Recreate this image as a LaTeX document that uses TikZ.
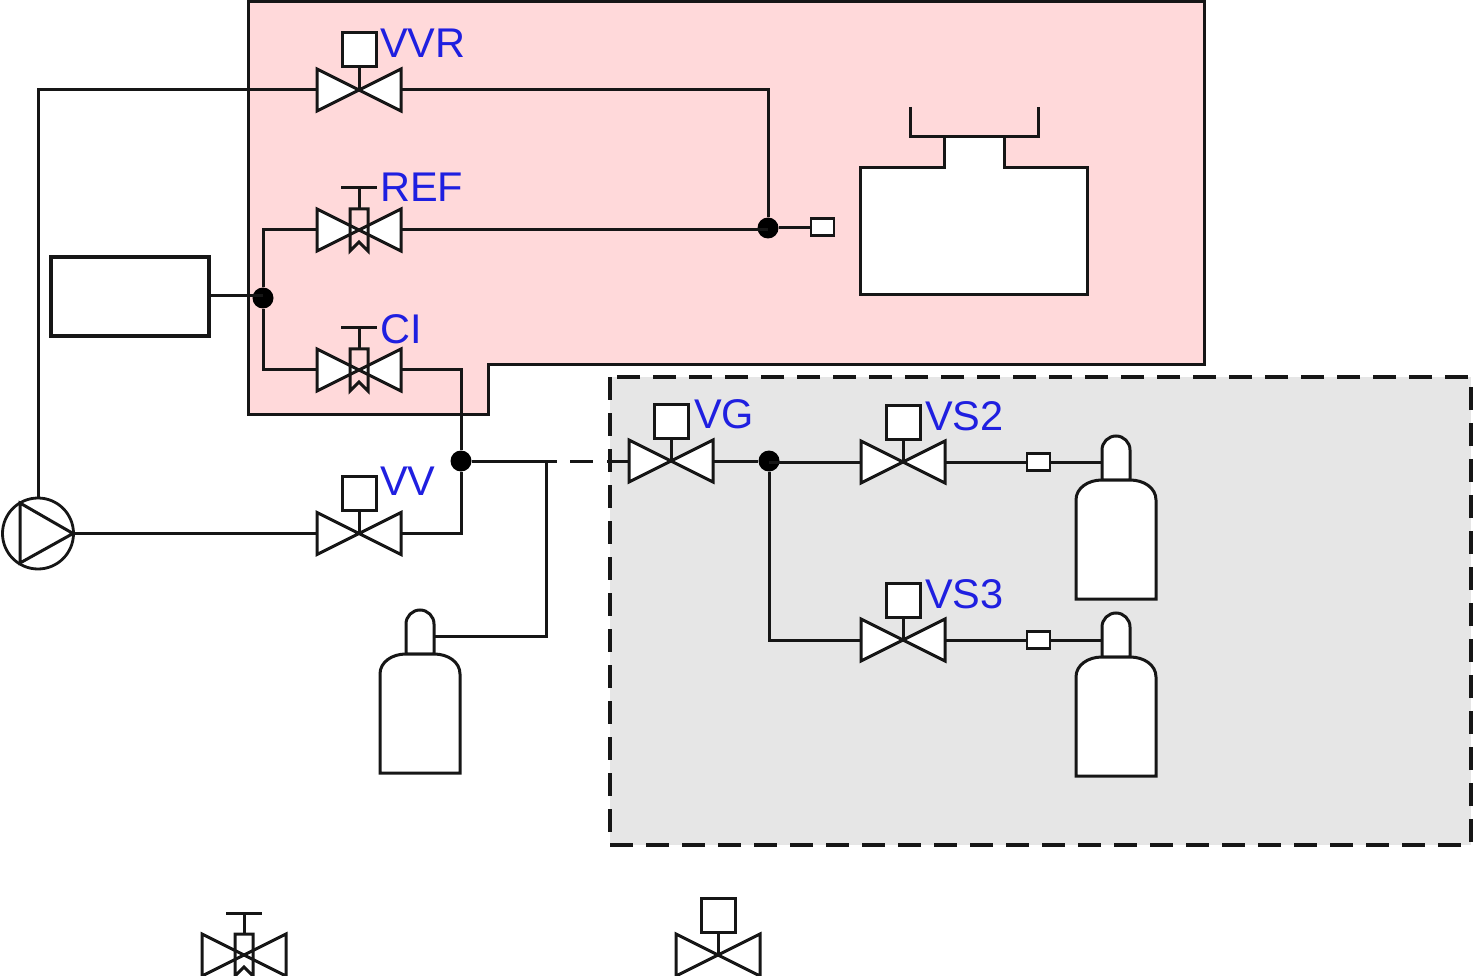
\documentclass[tikz,border=0pt]{standalone}
\usepackage{fontspec}
\setmainfont{Liberation Sans}
\definecolor{pinkbg}{HTML}{FFD9DA}
\definecolor{graybg}{HTML}{E6E6E6}
\definecolor{linek}{HTML}{161616}
\definecolor{lblblue}{HTML}{1F1FE0}
\tikzset{
  ln/.style={draw=linek,line width=3pt,line join=miter},
  conn/.style={draw=linek,line width=3pt},
  dotj/.style={circle,fill=black,draw=none,minimum size=21pt,inner sep=0pt},
  gaugebox/.style={rectangle,draw=linek,line width=2.8pt,fill=white,minimum width=23pt,minimum height=17pt,inner sep=0pt},
  lbl/.style={text=lblblue,font=\fontsize{41.5}{42}\selectfont,anchor=base west,inner sep=0pt},
  motorvalve/.pic={
    \path[ln,fill=white] (-42,-21) -- (42,21) -- (42,-21) -- (-42,21) -- cycle;
    \draw[ln] (0,0) -- (0,-23);
    \path[ln,fill=white] (-17,-23) rectangle (17,-57);
    \coordinate (-l) at (-42,0);
    \coordinate (-r) at (42,0);
  },
  handvalve/.pic={
    \path[ln,fill=white] (-42,-21) -- (42,21) -- (42,-21) -- (-42,21) -- cycle;
    \draw[ln] (0,-21) -- (0,-42);
    \draw[ln] (-18,-42) -- (18,-42);
    \draw[ln] (-9,21) -- (-9,-21) -- (9,-21) -- (9,21) -- (0,12) -- cycle;
    \coordinate (-l) at (-42,0);
    \coordinate (-r) at (42,0);
  },
  bottle/.pic={
    \path[ln,fill=white] (-14,44) -- (-14,14) arc[start angle=180,end angle=360,radius=14] -- (14,44) -- cycle;
    \path[ln,fill=white] (-40,163) -- (-40,64) .. controls (-40,52) and (-28,44) .. (-14,44)
       -- (14,44) .. controls (28,44) and (40,52) .. (40,64) -- (40,163) -- cycle;
    \coordinate (-pl) at (-14,26);
    \coordinate (-pr) at (14,26);
  }
}
\begin{document}
\begin{tikzpicture}[x=1pt,y=-1pt]
\useasboundingbox (0,0) rectangle (1473,976);
% zones
\path[ln,fill=pinkbg] (248,2) -- (1204,2) -- (1204,365) -- (488,365) -- (488,414) -- (248,414) -- cycle;
\path[fill=graybg,draw=linek,line width=3.2pt,dash pattern=on 23pt off 13pt] (610,377) rectangle (1471,845);
% equipment
\path[ln,fill=white] (944,137) -- (944,168) -- (860,168) -- (860,295) -- (1087,295) -- (1087,168) -- (1004,168) -- (1004,137) -- cycle;
\draw[ln] (910,107) -- (910,137) -- (1038,137) -- (1038,107);
\node[rectangle,draw=linek,line width=3.4pt,fill=white,minimum width=158pt,minimum height=79pt,inner sep=0pt] (box) at (130,296.5) {};
\node[circle,draw=linek,line width=2.8pt,fill=white,minimum size=71pt,inner sep=0pt] (pump) at (38,533.5) {};
\draw[ln,line width=3pt] (20,503) -- (73,533.5) -- (20,563) -- cycle;
% valves
\pic (vvr) at (359,90) {motorvalve};
\pic (ref) at (359,230) {handvalve};
\pic (ci) at (359,370) {handvalve};
\pic (vv) at (359,533.5) {motorvalve};
\pic (vg) at (671,461) {motorvalve};
\pic (vs2) at (903,462) {motorvalve};
\pic (vs3) at (903,640) {motorvalve};
\pic (lega) at (244,955) {handvalve};
\pic (legb) at (718,955) {motorvalve};
% bottles
\pic (b0) at (420,610) {bottle};
\pic (b2) at (1116,436) {bottle};
\pic (b3) at (1116,613) {bottle};
% small boxes
\node[gaugebox] (g1) at (822.5,227) {};
\node[gaugebox] (g2) at (1038.5,462) {};
\node[gaugebox] (g3) at (1038.5,640) {};
% junctions
\node[dotj] (j1) at (768,228) {};
\node[dotj] (j2) at (263,298) {};
\node[dotj] (j3) at (461,461) {};
\node[dotj] (j4) at (769,461) {};
\coordinate (tee) at (546,461);
\coordinate (dashA) at (557,461);
\coordinate (dashB) at (570,461);
\coordinate (dashC) at (593,461);
\coordinate (dashD) at (607,461);
% connectors
\draw[conn] (pump) |- (vvr-l);
\draw[conn] (vvr-r) -| (j1);
\draw[conn] (ref-r) -- (ref-r -| j1);
\draw[conn] (j1) -- (j1 -| g1.west);
\draw[conn] (box.east |- 0,296) -- (j2 |- 0,296);
\draw[conn] (j2) |- (ref-l);
\draw[conn] (j2) |- (ci-l);
\draw[conn] (ci-r) -| (j3);
\draw[conn] (j3) |- (vv-r);
\draw[conn] (pump) -- (vv-l);
\draw[conn] (j3) -- (dashA);
\draw[conn] (dashB) -- (dashC);
\draw[conn] (dashD) -- (vg-l);
\draw[conn] (tee) |- (b0-pr);
\draw[conn] (vg-r) -- (j4);
\draw[conn] (j4 |- vs2-l) -- (vs2-l);
\draw[conn] (j4) |- (vs3-l);
\draw[conn] (vs2-r) -- (g2);
\draw[conn] (g2) -- (g2 -| b2-pl);
\draw[conn] (vs3-r) -- (g3);
\draw[conn] (g3) -- (g3 -| b3-pl);
% labels
\node[lbl] (tvvr) at (380,58) {VVR};
\node[lbl] (tref) at (380,202) {REF};
\node[lbl] (tci) at (380,344) {CI};
\node[lbl] (tvv) at (380,495) {VV};
\node[lbl] (tvg) at (694,428) {VG};
\node[lbl] (tvs2) at (925,430) {VS2};
\node[lbl] (tvs3) at (925,608) {VS3};
\end{tikzpicture}
\end{document}
